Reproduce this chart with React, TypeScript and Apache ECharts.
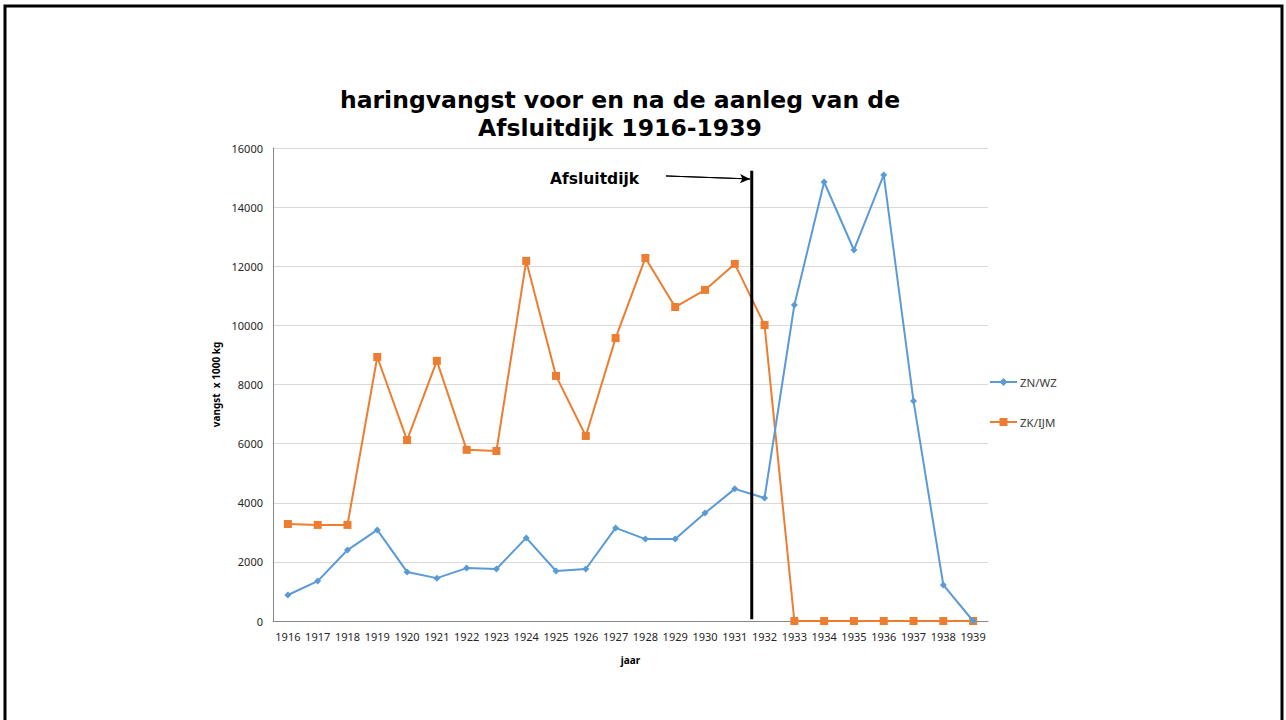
import React, { useEffect, useRef } from "react";
import * as echarts from "echarts";

const years = ["1916","1917","1918","1919","1920","1921","1922","1923","1924","1925","1926","1927","1928","1929","1930","1931","1932","1933","1934","1935","1936","1937","1938","1939"];
const znwz = [880,1350,2400,3080,1660,1450,1790,1760,2810,1690,1760,3150,2770,2770,3650,4470,4160,10690,14850,12550,15090,7440,1220,0];
const zkijm = [3280,3250,3250,8930,6120,8800,5790,5750,12180,8290,6260,9570,12280,10620,11200,12080,10010,0,0,0,0,0,0,0];
const yTicks = [0, 2000, 4000, 6000, 8000, 10000, 12000, 14000, 16000];
const damLine = [[15.57, 60], [15.57, 15230]];
const arrowLine = [[12.69, 15054], [15.51, 14953]];

export default function App() {
  const ref = useRef<HTMLDivElement>(null);
  useEffect(() => {
    document.body.style.margin = "0";
    const chart = echarts.init(ref.current!, null, { renderer: "svg" });
    const font = "'Noto Sans', sans-serif";
    chart.setOption({
      animation: false,
      backgroundColor: "#ffffff",
      grid: { left: 273, right: 298, top: 148, bottom: 99, containLabel: false },
      legend: {
        orient: "vertical",
        left: 984,
        top: 371,
        itemGap: 28,
        itemWidth: 27,
        itemHeight: 10,
        itemGap2: 0,
        textStyle: { fontFamily: font, fontSize: 11.5, color: "#404040", padding: [0, 0, 0, -2] },
        data: ["ZN/WZ", "ZK/IJM"],
      },
      xAxis: [
        {
          type: "category",
          data: years,
          boundaryGap: true,
          axisLine: { lineStyle: { color: "#868686", width: 1 } },
          axisTick: { show: false },
          axisLabel: { fontFamily: font, fontSize: 11, color: "#262626", margin: 10, interval: 0 },
          name: "jaar",
          nameLocation: "middle",
          nameGap: 34,
          nameTextStyle: { fontFamily: font, fontSize: 10, fontWeight: "bold", color: "#000" },
        },
        {
          type: "value",
          min: -0.5,
          max: 23.5,
          show: false,
        },
      ],
      yAxis: {
        type: "value",
        min: 0,
        max: 16000,
        interval: 2000,
        axisLine: { show: true, onZero: false, lineStyle: { color: "#868686", width: 1 } },
        axisTick: { show: false },
        splitLine: { lineStyle: { color: "#d9d9d9", width: 1 } },
        axisLabel: { fontFamily: font, fontSize: 11, color: "#262626", margin: 10,
          formatter: (v: number) => (yTicks.includes(v) ? String(v) : "") },
        name: "vangst  x 1000 kg",
        nameLocation: "middle",
        nameGap: 52,
        nameTextStyle: { fontFamily: font, fontSize: 10, fontWeight: "bold", color: "#000" },
      },
      series: [
        {
          name: "ZN/WZ",
          type: "line",
          data: znwz,
          symbol: "diamond",
          symbolSize: 7,
          itemStyle: { color: "#5B9BD5" },
          lineStyle: { color: "#5B9BD5", width: 2 },
          z: 3,
        },
        {
          name: "ZK/IJM",
          type: "line",
          data: zkijm,
          symbol: "rect",
          symbolSize: 8,
          itemStyle: { color: "#ED7D31" },
          lineStyle: { color: "#ED7D31", width: 2 },
          z: 2,
        },
        {
          name: "dam",
          type: "line",
          xAxisIndex: 1,
          data: damLine,
          symbol: "none",
          lineStyle: { color: "#000", width: 3 },
          z: 4,
          silent: true,
        },
        {
          name: "arrow",
          type: "line",
          xAxisIndex: 1,
          data: arrowLine,
          showSymbol: false,
          symbol: "none",
          lineStyle: { color: "#000", width: 1 },
          markLine: {
            silent: true,
            symbol: ["none", "arrow"],
            symbolSize: [7, 10],
            label: { show: false },
            lineStyle: { color: "#000", width: 1, type: "solid" },
            data: [[{ coord: arrowLine[0] }, { coord: arrowLine[1] }]],
          },
          z: 4,
          silent: true,
        },
      ],
      graphic: [
        {
          type: "rect",
          shape: { x: 5, y: 6, width: 1277, height: 730 },
          style: { fill: "none", stroke: "#000", lineWidth: 3 },
          silent: true,
        },
        {
          type: "text",
          x: 620,
          y: 100,
          style: { text: "haringvangst voor en na de aanleg van de", fontFamily: "'DejaVu Sans', sans-serif",
            fontSize: 23.5, fontWeight: "bold", fill: "#000", align: "center", verticalAlign: "middle" },
        },
        {
          type: "text",
          x: 620,
          y: 128,
          style: { text: "Afsluitdijk 1916-1939", fontFamily: "'DejaVu Sans', sans-serif",
            fontSize: 23.5, fontWeight: "bold", fill: "#000", align: "center", verticalAlign: "middle" },
        },
        {
          type: "text",
          x: 550,
          y: 179,
          style: { text: "Afsluitdijk", fontFamily: "'DejaVu Sans', sans-serif",
            fontSize: 15.5, fontWeight: "bold", fill: "#000", align: "left", verticalAlign: "middle" },
        },
      ],
    });
    return () => chart.dispose();
  }, []);
  return <div ref={ref} style={{ width: 1286, height: 720 }} />;
}
